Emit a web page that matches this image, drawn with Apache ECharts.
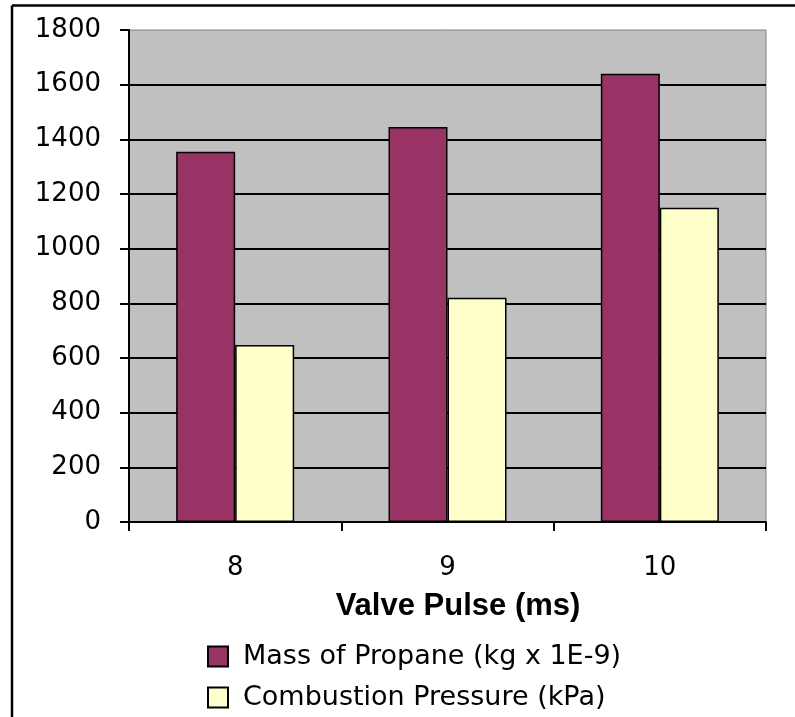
<!DOCTYPE html>
<html>
<head>
<meta charset="utf-8">
<script src="https://cdn.jsdelivr.net/npm/echarts@6/dist/echarts.min.js"></script>
<style>
  html, body { margin: 0; padding: 0; background: #ffffff; }
  #chart { width: 795px; height: 717px; }
</style>
</head>
<body>
<div id="chart"></div>
<script>
// Valve pulse length (ms) on the category axis
const pulses = ['8', '9', '10'];
// Series values per pulse
const propaneMass = [1355, 1445, 1640];
const combustionPressure = [648, 820, 1150];
const seriesNames = ['Mass of Propane (kg x 1E-9)', 'Combustion Pressure (kPa)'];
const axisTitle = 'Valve Pulse (ms)';
// Value axis range
const yMin = 0, yMax = 1800, yStep = 200;

const chart = echarts.init(document.getElementById('chart'), null, { renderer: 'canvas' });

const barBorder = { borderColor: '#000000', borderWidth: 1.5 };
const frameStyle = { stroke: '#000000', lineWidth: 2.5 };

chart.setOption({
  animation: false,
  backgroundColor: '#ffffff',
  textStyle: { fontFamily: 'DejaVu Sans', color: '#000000' },
  graphic: [
    // frame around the chart area: left and top edges
    { type: 'line', silent: true, z: 100, shape: { x1: 12, y1: 5.5, x2: 795, y2: 5.5 }, style: frameStyle },
    { type: 'line', silent: true, z: 100, shape: { x1: 12, y1: 5.5, x2: 12, y2: 717 }, style: frameStyle }
  ],
  grid: {
    left: 129, top: 30, right: 29, bottom: 195,
    show: true,
    backgroundColor: '#c0c0c0',
    borderColor: '#808080',
    borderWidth: 1
  },
  legend: {
    orient: 'vertical',
    left: 207, top: 643,
    padding: 0,
    itemWidth: 20, itemHeight: 20,
    itemGap: 14,
    icon: 'rect',
    textStyle: { fontSize: 27, lineHeight: 26, color: '#000000', fontFamily: 'DejaVu Sans', padding: [0, 0, 0, 10] },
    data: seriesNames
  },
  xAxis: {
    type: 'category',
    data: pulses,
    name: axisTitle,
    nameLocation: 'middle',
    nameGap: 69,
    nameTextStyle: { fontFamily: 'Liberation Sans', fontWeight: 'bold', fontSize: 31, color: '#000000', padding: [0, 0, 0, 21] },
    axisLine: { show: true, lineStyle: { color: '#000000', width: 2 } },
    axisTick: { show: true, length: 9, lineStyle: { color: '#000000', width: 2 } },
    axisLabel: { fontSize: 26, color: '#000000', margin: 33 },
    splitLine: { show: false }
  },
  yAxis: {
    type: 'value',
    min: yMin, max: yMax, interval: yStep,
    axisLine: { show: true, lineStyle: { color: '#000000', width: 2 } },
    axisTick: { show: true, length: 9, lineStyle: { color: '#000000', width: 2 } },
    axisLabel: { fontSize: 26, color: '#000000', margin: 28, formatter: function (v) { return String(v); } },
    splitLine: { show: true, showMaxLine: false, lineStyle: { color: '#000000', width: 2 } }
  },
  series: [
    {
      name: seriesNames[0],
      type: 'bar',
      data: propaneMass,
      barWidth: 59,
      barGap: '0%',
      itemStyle: Object.assign({ color: '#993366' }, barBorder)
    },
    {
      name: seriesNames[1],
      type: 'bar',
      data: combustionPressure,
      barWidth: 59,
      barGap: '0%',
      itemStyle: Object.assign({ color: '#ffffcc' }, barBorder)
    }
  ]
});
</script>
</body>
</html>
